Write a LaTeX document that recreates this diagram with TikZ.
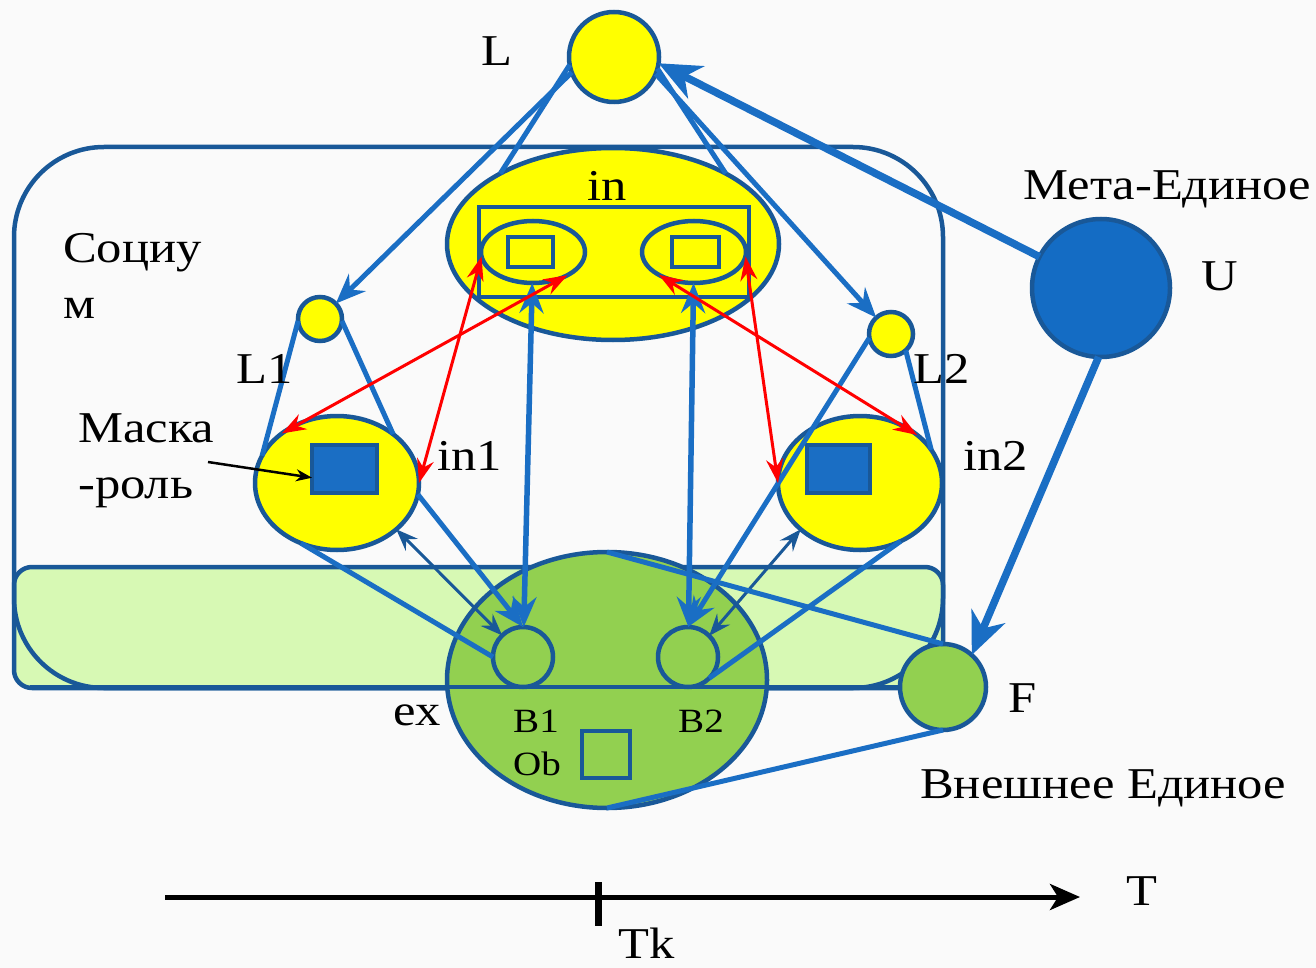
\documentclass[tikz,border=0pt]{standalone}
\usepackage{fontspec}
\setmainfont[FakeStretch=1.15]{Liberation Serif}
\usetikzlibrary{shapes.geometric,arrows.meta,calc}
\definecolor{navy}{RGB}{25,88,152}
\definecolor{lblue}{RGB}{26,110,196}
\definecolor{ufill}{RGB}{20,108,196}
\definecolor{yel}{RGB}{255,255,0}
\definecolor{grn}{RGB}{146,208,80}
\definecolor{lgrn}{RGB}{215,249,180}
\definecolor{bgc}{RGB}{250,250,250}
\definecolor{redc}{RGB}{255,0,0}
\begin{document}
\begin{tikzpicture}[x=1pt,y=-1pt,
 outl/.style={draw=navy,line width=4.5pt},
 ell/.style={ellipse,outl,inner sep=0pt,outer sep=0pt},
 circ/.style={circle,outl,inner sep=0pt,outer sep=0pt},
 box/.style={rectangle,outl,inner sep=0pt,outer sep=0pt},
 conn/.style={draw=lblue,line width=5pt},
 carr/.style={conn,-{Stealth[length=30pt,width=24pt,inset=10pt]}},
 vdarr/.style={draw=lblue,line width=5.5pt,{Stealth[length=30pt,width=24pt,inset=10pt]}-{Stealth[length=30pt,width=24pt,inset=10pt]}},
 redarr/.style={draw=redc,line width=3pt,{Stealth[length=24pt,width=17pt,inset=8pt]}-{Stealth[length=24pt,width=17pt,inset=8pt]}},
 thinarr/.style={draw=navy,line width=3pt,{Stealth[length=22pt,width=17pt,inset=8pt]}-{Stealth[length=22pt,width=17pt,inset=8pt]}},
 heavyarr/.style={draw=lblue,line width=7.5pt,-{Stealth[length=42pt,width=36pt,inset=13pt]}},
 lab/.style={font=\fontsize{44}{50}\selectfont,inner sep=0pt,anchor=base},
 labw/.style={lab,anchor=base west},
 slab/.style={font=\fontsize{34}{40}\selectfont,inner sep=0pt,anchor=base west},
]
\useasboundingbox (0,0) rectangle (1316,968);
\fill[bgc] (0,0) rectangle (1316,968);
% Socium box and band
\filldraw[fill=lgrn,draw=navy,line width=4.5pt,rounded corners=18pt] (14,567) rectangle (943,688);
\draw[outl,rounded corners=90pt] (14,147) rectangle (943,688);
% nodes
\node[circ,fill=yel,minimum size=90pt] (L) at (614,57) {};
\node[ell,fill=yel,minimum width=332pt,minimum height=192pt] (in) at (613,244) {};
\node[box,minimum width=270pt,minimum height=90pt] (inR) at (614,252) {};
\node[ell,minimum width=104pt,minimum height=62pt] (e1) at (533,252) {};
\node[ell,minimum width=104pt,minimum height=62pt] (e2) at (694,252) {};
\node[box,minimum width=45pt,minimum height=30pt] (s1) at (530.5,252) {};
\node[box,minimum width=47pt,minimum height=30pt] (s2) at (695.5,252) {};
\node[circ,fill=yel,minimum size=44pt] (L1) at (320,319) {};
\node[circ,fill=yel,minimum size=44pt] (L2) at (891,334) {};
\node[ell,fill=yel,minimum width=164pt,minimum height=134pt] (in1) at (337,483) {};
\node[ell,fill=yel,minimum width=164pt,minimum height=134pt] (in2) at (860,483) {};
\node[box,fill=lblue,minimum width=65pt,minimum height=48pt] (r1) at (344.5,469) {};
\node[box,fill=lblue,minimum width=63pt,minimum height=48pt] (r2) at (838.5,469) {};
\node[ell,fill=grn,minimum width=320pt,minimum height=256pt] (B) at (607,680) {};
\node[circ,fill=grn,minimum size=86pt] (F) at (943,687) {};
\coordinate (bandL) at (30,687);
\draw[outl] (bandL) -- (F.west);
\node[circ,fill=grn,minimum size=60pt] (B1) at (523,657) {};
\node[circ,fill=grn,minimum size=60pt] (B2) at (688,657) {};
\node[box,minimum width=48pt,minimum height=47pt] (Ob) at (606,754.5) {};
\node[circ,fill=ufill,minimum size=138pt] (U) at (1101,288) {};
% connectors
\draw[conn] (L.190) -- (in.148);
\draw[conn] (L.-15) -- (in.32);
\draw[carr] (L.200) -- (L1);
\draw[carr] (L.-22) -- (L2);
\draw[conn] (L1.185) -- (in1.160);
\draw[conn] (L1.-5) -- (in1.41);
\draw[conn] (L2.-48) -- (in2.25);
\draw[carr] (L2.190) -- (B2.north);
\draw[carr] (in1.-8) -- (B1.north);
\draw[conn] (in1.239) -- (B1.west);
\draw[conn] (in2.-55) -- (B2.-45);
\draw[thinarr] (in1.-38) -- (B1.134);
\draw[thinarr] (in2.218) -- (B2.45);
\draw[vdarr] (B1) -- (e1);
\draw[vdarr] (B2) -- (e2);
\draw[redarr] (in1.0) -- (e1.185);
\draw[redarr] (in1.138) -- (e1.-34);
\draw[redarr] (e2.213) -- (in2.40);
\draw[redarr] (e2.-5) -- (in2.180);
\draw[conn] (B.north) -- (F.north);
\draw[conn] (B.south) -- (F.south);
\draw[heavyarr] (U) -- (L.-8);
\draw[heavyarr] (U.268) -- (F.48);
% mask arrow
\coordinate (mk) at (208,462);
\draw[black,line width=2.5pt,-{Stealth[length=16pt,width=12pt]}] (mk) -- (r1.195);
% timeline
\coordinate (t0) at (165,897);
\coordinate (t1) at (1080,897);
\coordinate (tk) at (598,897);
\draw[black,line width=5pt,-{Stealth[length=30pt,width=26pt,inset=8pt]}] (t0) -- (t1);
\draw[black,line width=7pt] ($(tk)+(0,-15)$) -- ($(tk)+(0,29)$);
% labels
\node[lab] (lL) at (497,66) {L};
\node[lab] (lin) at (607,201) {in};
\node[labw] (lsoc) at (63,262) {Социу};
\node[labw] (lsoc2) at (63,318) {м};
\node[lab] (lL1) at (265,383) {L1};
\node[lab] (lL2) at (942,383) {L2};
\node[labw] (lmask) at (78,442) {Маска};
\node[labw] (lrole) at (78,498) {-роль};
\node[labw] (lin1) at (437,470) {in1};
\node[labw] (lin2) at (963,470) {in2};
\node[labw] (lmeta) at (1023,200) {Мета-Единое};
\node[lab] (lU) at (1220,290) {U};
\node[labw] (lex) at (393,725) {ex};
\node[slab] (lB1) at (513,732) {B1};
\node[slab] (lB2) at (678,732) {B2};
\node[slab] (lOb) at (513,775) {Ob};
\node[labw] (lF) at (1008,712) {F};
\node[labw] (lext) at (920,798) {Внешнее Единое};
\node[lab] (lT) at (1142,905) {T};
\node[labw] (lTk) at (618,958) {Tk};
\end{tikzpicture}
\end{document}
